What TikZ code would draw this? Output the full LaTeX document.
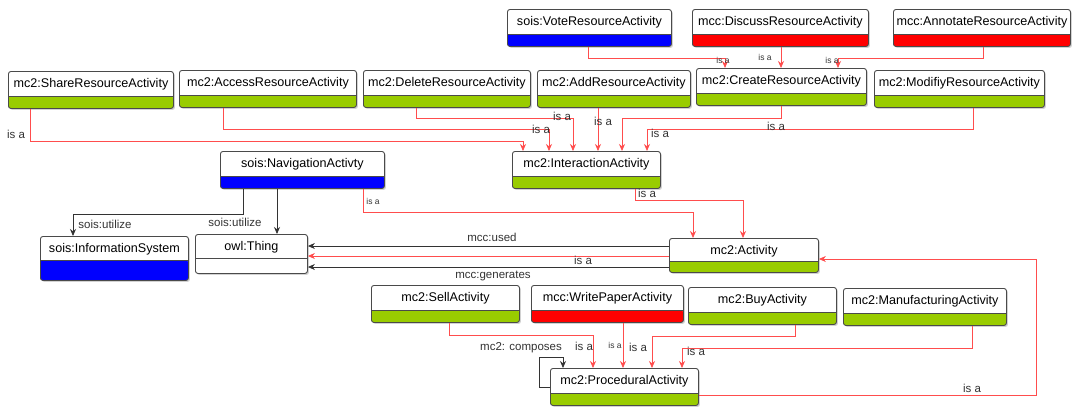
\documentclass[tikz,border=0pt]{standalone}
\usepackage{fontspec}
\setmainfont{Liberation Sans}
\usetikzlibrary{shadows,arrows.meta}

\definecolor{barGreen}{HTML}{99CC00}
\definecolor{barBlue}{HTML}{0000FF}
\definecolor{barRed}{HTML}{FF0000}
\definecolor{boxLine}{HTML}{4A4A4A}
\definecolor{isaRed}{HTML}{FF4D4D}
\definecolor{relGray}{HTML}{333333}

\newcommand{\clsfont}{\fontsize{12.6}{15}\selectfont}
\newcommand{\lblfont}{\fontsize{11.5}{13}\selectfont}
\newcommand{\tinyfont}{\fontsize{8.5}{10}\selectfont}

\tikzset{
  bar color/.store in=\barColor, bar color=barGreen,
  bar height/.store in=\barHeight, bar height=12pt,
  cls/.style={draw=boxLine, line width=0.9pt, rounded corners=2.5pt, fill=white,
    drop shadow={opacity=0.35, shadow xshift=1.5pt, shadow yshift=-1.5pt},
    anchor=north west, inner xsep=0pt, inner ysep=0pt,
    text height=16.5pt, text depth=20.5pt, font=\clsfont, bar color=#1,
    path picture={
      \fill[\barColor] (path picture bounding box.south west) rectangle ([yshift=\barHeight]path picture bounding box.south east);
      \draw[boxLine, line width=0.9pt] ([yshift=\barHeight]path picture bounding box.south west) -- ([yshift=\barHeight]path picture bounding box.south east);
    }},
  isa/.style={draw=isaRed, line width=0.8pt, -{Stealth[length=7pt,width=6pt]}},
  rel/.style={draw=relGray, line width=0.8pt, -{Stealth[length=7pt,width=6pt]}},
  lbl/.style={font=\lblfont, text=relGray, inner sep=0pt},
  slbl/.style={font=\tinyfont, text=relGray, inner sep=0pt},
}

\begin{document}
\begin{tikzpicture}[x=1pt, y=-1pt]

  % Canvas
  \path[use as bounding box, fill=white] (0,0) rectangle (1072,408);

  % Top row
  \node[cls=barBlue, minimum width=164pt] (vote) at (507,9) {sois:VoteResourceActivity};
  \node[cls=barRed, minimum width=176pt] (discuss) at (692,9) {mcc:DiscussResourceActivity};
  \node[cls=barRed, minimum width=177pt] (annotate) at (893,9) {mcc:AnnotateResourceActivity};

  % Resource activities
  \node[cls=barGreen, minimum width=165pt] (share) at (8,71) {mc2:ShareResourceActivity};
  \node[cls=barGreen, minimum width=177pt] (access) at (179,70) {mc2:AccessResourceActivity};
  \node[cls=barGreen, minimum width=167pt] (delete) at (363,70) {mc2:DeleteResourceActivity};
  \node[cls=barGreen, minimum width=153pt] (add) at (537,70) {mc2:AddResourceActivity};
  \node[cls=barGreen, minimum width=170pt] (create) at (696,68) {mc2:CreateResourceActivity};
  \node[cls=barGreen, minimum width=170pt] (modify) at (874,70) {mc2:ModifiyResourceActivity};

  % Middle
  \node[cls=barBlue, minimum width=164pt] (nav) at (220,151) {sois:NavigationActivty};
  \node[cls=barGreen, minimum width=148pt] (inter) at (512,151) {mc2:InteractionActivity};
  \node[cls=barBlue, minimum width=148pt, text height=16pt, text depth=28pt, bar height=20pt] (info) at (40,236) {sois:InformationSystem};
  \node[cls=white, minimum width=112pt, text height=16pt, text depth=23pt, bar height=15pt] (thing) at (195,234) {owl:Thing};
  \node[cls=barGreen, minimum width=149pt, text height=16pt, text depth=18pt, bar height=11pt] (act) at (669,238) {mc2:Activity};

  % Bottom row
  \node[cls=barGreen, minimum width=148pt] (sell) at (371,285) {mc2:SellActivity};
  \node[cls=barRed, minimum width=152pt] (write) at (531,285) {mcc:WritePaperActivity};
  \node[cls=barGreen, minimum width=148pt] (buy) at (688,287) {mc2:BuyActivity};
  \node[cls=barGreen, minimum width=163pt] (manu) at (843,288) {mc2:ManufacturingActivity};
  \node[cls=barGreen, minimum width=148pt] (proc) at (550,368) {mc2:ProceduralActivity};

  % is a -> CreateResourceActivity
  \draw[isa] ([xshift=81pt]vote.south west) -- ++(0,11) -| ([xshift=29pt]create.north west);
  \draw[isa] ([xshift=89pt]discuss.south west) -- ([xshift=85pt]create.north west);
  \draw[isa] ([xshift=90pt]annotate.south west) -- ++(0,11) -| ([xshift=142pt]create.north west);

  % is a -> InteractionActivity
  \draw[isa] ([xshift=22pt]share.south west) -- ++(0,32) -| ([xshift=11pt]inter.north west);
  \draw[isa] ([xshift=44pt]access.south west) -- ++(0,21) -| ([xshift=37pt]inter.north west);
  \draw[isa] ([xshift=53pt]delete.south west) -- ++(0,10) -| ([xshift=61pt]inter.north west);
  \draw[isa] ([xshift=61pt]add.south west) -- ([xshift=86pt]inter.north west);
  \draw[isa] ([xshift=85pt]create.south west) -- ++(0,12) -| ([xshift=110pt]inter.north west);
  \draw[isa] ([xshift=99pt]modify.south west) -- ++(0,21) -| ([xshift=135pt]inter.north west);

  % is a -> Activity
  \draw[isa] ([xshift=123pt]inter.south west) -- ++(0,11) -| ([xshift=74pt]act.north west);
  \draw[isa] ([xshift=143pt]nav.south west) -- ++(0,23) -| ([xshift=24pt]act.north west);
  \draw[isa] ([yshift=-27pt]proc.north east) -- ++(337,0) |- ([yshift=-21pt]act.north east);

  % sois:utilize
  \draw[rel] ([xshift=23pt]nav.south west) -- ++(0,25) -| ([xshift=33pt]info.north west);
  \draw[rel] ([xshift=57pt]nav.south west) -- ([xshift=82pt]thing.north west);

  % Activity -> owl:Thing
  \draw[rel] ([yshift=-8pt]act.north west) -- ([yshift=-8pt]act.north west -| thing.east);
  \draw[isa] ([yshift=-18pt]act.north west) -- ([yshift=-18pt]act.north west -| thing.east);
  \draw[rel] ([yshift=-29pt]act.north west) -- ([yshift=-29pt]act.north west -| thing.east);

  % is a -> ProceduralActivity
  \draw[isa] ([xshift=78pt]sell.south west) -- ++(0,12) -| ([xshift=43pt]proc.north west);
  \draw[isa] ([xshift=92pt]write.south west) -- ([xshift=73pt]proc.north west);
  \draw[isa] ([xshift=107pt]buy.south west) -- ++(0,11) -| ([xshift=102pt]proc.north west);
  \draw[isa] ([xshift=129pt]manu.south west) -- ++(0,22) -| ([xshift=132pt]proc.north west);

  % mc2: composes (self loop)
  \draw[rel] ([yshift=-19pt]proc.north west) -- ++(-11,0) -- ++(0,-30) -| ([xshift=13pt]proc.north west);

  % Labels
  \node[slbl] (l1) at (723,60) {is a};
  \node[slbl] (l2) at (765,57) {is a};
  \node[slbl] (l3) at (832,60) {is a};
  \node[lbl] (l4) at (16,134) {is a};
  \node[lbl] (l5) at (541,129) {is a};
  \node[lbl] (l6) at (562,116) {is a};
  \node[lbl] (l7) at (603,121) {is a};
  \node[lbl] (l8) at (776,126) {is a};
  \node[lbl] (l9) at (660,133) {is a};
  \node[lbl] (l10) at (647,193) {is a};
  \node[slbl] (l11) at (373,201) {is a};
  \node[lbl] (l12) at (105,224) {sois:utilize};
  \node[lbl] (l13) at (235,222) {sois:utilize};
  \node[lbl] (l14) at (492,237) {mcc:used};
  \node[lbl] (l15) at (583,260) {is a};
  \node[lbl] (l16) at (493,276) {mcc:generates};
  \node[lbl] (l17) at (584,346) {is a};
  \node[slbl] (l18) at (615,345) {is a};
  \node[lbl] (l19) at (638,347) {is a};
  \node[lbl] (l20) at (696,351) {is a};
  \node[lbl] (l21) at (521,348) {mc2: composes};
  \node[lbl] (l22) at (972,388) {is a};

\end{tikzpicture}
\end{document}
